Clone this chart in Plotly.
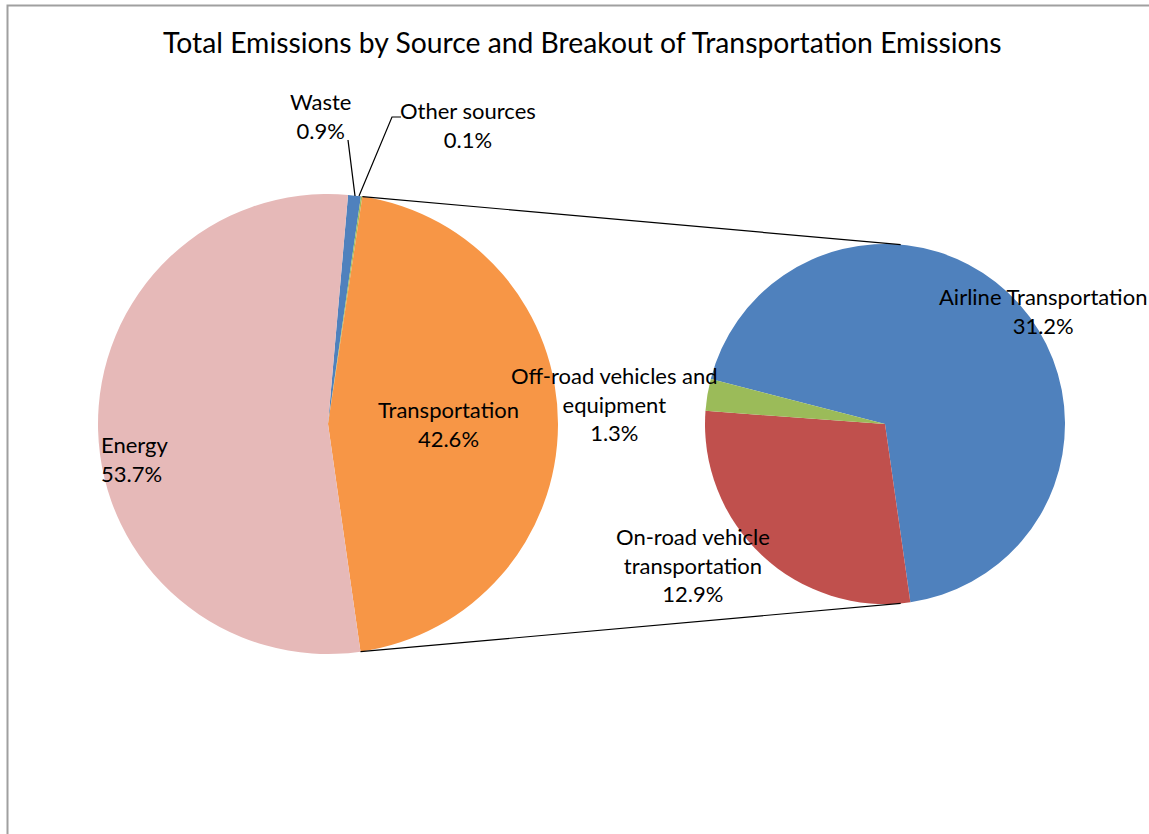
import math
import plotly.graph_objects as go

W, H = 1149, 834

TITLE = "Total Emissions by Source and Breakout of Transportation Emissions"

# ---- data (percent of total emissions) ----
main_labels = ["Waste", "Other sources", "Transportation", "Energy"]
main_values = [0.9, 0.1, 45.4, 53.7]          # Transportation slice = sum of breakout
main_pct_text = ["0.9%", "0.1%", "42.6%", "53.7%"]

sub_labels = ["Airline Transportation", "On-road vehicle transportation",
              "Off-road vehicles and equipment"]
sub_values = [31.2, 12.9, 1.3]
sub_pct_text = ["31.2%", "12.9%", "1.3%"]

# ---- styling ----
main_colors = ["#4F81BD", "#9BBB59", "#F79646", "#E6B9B8"]
sub_colors = ["#4F81BD", "#C0504D", "#9BBB59"]
FONT = "Lato"
LABEL_SIZE = 22
TITLE_SIZE = 28.3

# pie geometry in pixels
MAIN_C, MAIN_R, MAIN_ROT = (328, 424), 230, 5.0
SUB_C, SUB_R, SUB_ROT = (885, 424), 180, 284.5


def dom(c, r):
    x = [(c[0] - r) / W, (c[0] + r) / W]
    y = [(H - c[1] - r) / H, (H - c[1] + r) / H]
    return dict(x=x, y=y)


def pt(c, r, ang):
    a = math.radians(ang)
    return c[0] + r * math.sin(a), c[1] - r * math.cos(a)


fig = go.Figure()
fig.add_trace(go.Pie(labels=main_labels, values=main_values, sort=False,
                     direction="clockwise", rotation=MAIN_ROT,
                     marker=dict(colors=main_colors, line=dict(width=0)),
                     textinfo="none", showlegend=False, domain=dom(MAIN_C, MAIN_R)))
fig.add_trace(go.Pie(labels=sub_labels, values=sub_values, sort=False,
                     direction="clockwise", rotation=SUB_ROT,
                     marker=dict(colors=sub_colors, line=dict(width=0)),
                     textinfo="none", showlegend=False, domain=dom(SUB_C, SUB_R)))

# invisible pixel-coordinate axes for annotations/shapes
fig.update_xaxes(range=[0, W], visible=False, fixedrange=True)
fig.update_yaxes(range=[H, 0], visible=False, fixedrange=True)
fig.add_trace(go.Scatter(x=[0], y=[0], mode="markers", marker=dict(opacity=0),
                         showlegend=False, hoverinfo="skip"))

# connector lines between transportation slice and the breakout pie
tot = sum(main_values)
a0 = MAIN_ROT + (main_values[0] + main_values[1]) / tot * 360
a1 = a0 + main_values[2] / tot * 360
p_top = pt(MAIN_C, MAIN_R, a0)
p_bot = pt(MAIN_C, MAIN_R, a1)
q_top = pt(SUB_C, SUB_R, 5)
q_bot = pt(SUB_C, SUB_R, 175)
shapes = [
    dict(type="line", x0=p_top[0], y0=p_top[1], x1=q_top[0], y1=q_top[1],
         line=dict(color="black", width=1.2)),
    dict(type="line", x0=p_bot[0], y0=p_bot[1], x1=q_bot[0], y1=q_bot[1],
         line=dict(color="black", width=1.2)),
    # leader lines
    dict(type="path", path="M 355 196 L 348 140", line=dict(color="black", width=1.2)),
    dict(type="path", path="M 359 196 L 392 117 L 401 117", line=dict(color="black", width=1.2)),
    # chart border
    dict(type="rect", x0=7.5, y0=5.5, x1=W + 20, y1=H + 20,
         line=dict(color="#A0A0A0", width=2)),
]

ann_pos = {
    "Energy": (134, 459),
    "Transportation": (448, 424),
    "Waste": (320, 116),
    "Other sources": (468, 125),
    "Airline Transportation": (1043, 311),
    "On-road vehicle transportation": (693, 565),
    "Off-road vehicles and equipment": (614, 404),
}
ann_text_lines = {
    "On-road vehicle transportation": "On-road vehicle<br>transportation",
    "Off-road vehicles and equipment": "Off-road vehicles and<br>equipment",
}
annotations = []
for lab, pct in list(zip(main_labels, main_pct_text)) + list(zip(sub_labels, sub_pct_text)):
    x, y = ann_pos[lab]
    annotations.append(dict(x=x, y=y, xref="x", yref="y", showarrow=False,
                            text=ann_text_lines.get(lab, lab) + "<br>" + pct,
                            align="left" if lab == "Energy" else "center",
                            font=dict(family=FONT, size=LABEL_SIZE, color="black")))
annotations.append(dict(x=582, y=42, xref="x", yref="y", showarrow=False, text=TITLE,
                        font=dict(family=FONT, size=TITLE_SIZE, color="black")))

fig.update_layout(width=W, height=H, margin=dict(l=0, r=0, t=0, b=0),
                  paper_bgcolor="white", plot_bgcolor="white",
                  shapes=shapes, annotations=annotations)
fig.write_html("out.html", config={"displayModeBar": False},
               post_script="document.body.style.margin='0';document.body.style.overflow='hidden';")
